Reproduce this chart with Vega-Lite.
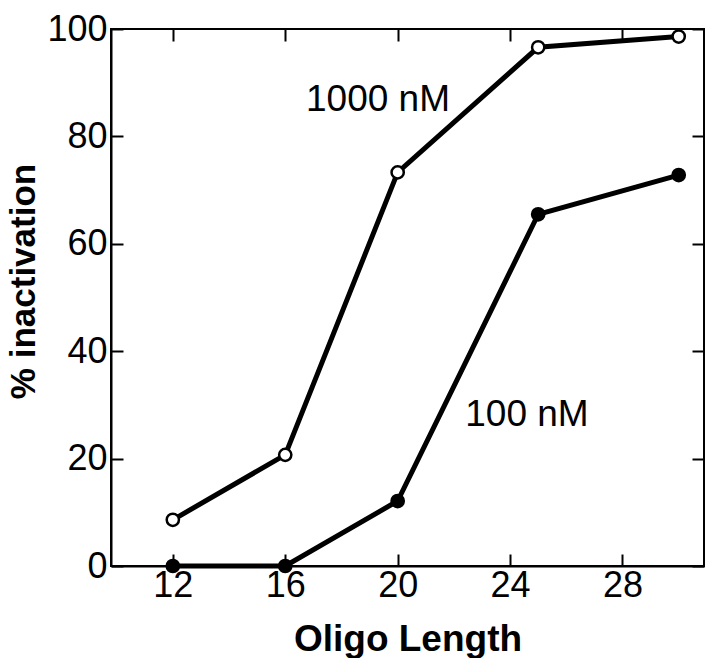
{
  "$schema": "https://vega.github.io/schema/vega-lite/v6.json",
  "width": 593,
  "height": 537,
  "autosize": "none",
  "padding": {"left": 111, "top": 29, "right": 3, "bottom": 92},
  "background": "white",
  "config": {
    "font": "Liberation Sans",
    "view": {"stroke": "black", "strokeWidth": 2},
    "axis": {
      "grid": false,
      "domainColor": "black",
      "domainWidth": 2,
      "tickColor": "black",
      "tickWidth": 2,
      "tickSize": -12,
      "labelColor": "black",
      "labelFont": "Liberation Sans",
      "labelFontSize": 36,
      "titleColor": "black",
      "titleFont": "Liberation Sans",
      "titleFontSize": 37,
      "titleFontWeight": "bold"
    }
  },
  "datasets": {
    "curves": [
      {"length": 12, "pct": 8.6, "conc": "1000 nM"},
      {"length": 16, "pct": 20.7, "conc": "1000 nM"},
      {"length": 20, "pct": 73.3, "conc": "1000 nM"},
      {"length": 25, "pct": 96.6, "conc": "1000 nM"},
      {"length": 30, "pct": 98.6, "conc": "1000 nM"},
      {"length": 12, "pct": 0, "conc": "100 nM"},
      {"length": 16, "pct": 0, "conc": "100 nM"},
      {"length": 20, "pct": 12.1, "conc": "100 nM"},
      {"length": 25, "pct": 65.5, "conc": "100 nM"},
      {"length": 30, "pct": 72.8, "conc": "100 nM"}
    ],
    "labels": [
      {"length": 19.3, "pct": 86.8, "label": "1000 nM"},
      {"length": 24.6, "pct": 28.1, "label": "100 nM"}
    ]
  },
  "layer": [
    {
      "data": {"name": "curves"},
      "mark": {"type": "line", "color": "black", "strokeWidth": 5},
      "encoding": {
        "x": {
          "field": "length", "type": "quantitative",
          "scale": {"domain": [9.8, 30.9], "nice": false, "zero": false},
          "axis": {"orient": "bottom", "values": [12, 16, 20, 24, 28], "title": "Oligo Length", "labelPadding": 14, "titlePadding": 18}
        },
        "y": {
          "field": "pct", "type": "quantitative",
          "scale": {"domain": [0, 100], "nice": false},
          "axis": {"orient": "left", "values": [0, 20, 40, 60, 80, 100], "title": "% inactivation", "titleFontSize": 35, "labelPadding": 16, "titlePadding": 5, "titleY": 252}
        },
        "detail": {"field": "conc"}
      }
    },
    {
      "data": {"name": "curves"},
      "mark": {"type": "point", "shape": "circle", "size": 150, "strokeWidth": 2.5, "stroke": "black", "opacity": 1, "filled": true},
      "encoding": {
        "x": {"field": "length", "type": "quantitative", "axis": null},
        "y": {"field": "pct", "type": "quantitative", "axis": null},
        "fill": {
          "field": "conc", "type": "nominal",
          "scale": {"domain": ["1000 nM", "100 nM"], "range": ["white", "black"]},
          "legend": null
        }
      }
    },
    {
      "data": {"name": "labels"},
      "mark": {"type": "text", "font": "Liberation Sans", "fontSize": 37, "color": "black", "align": "center", "baseline": "middle"},
      "encoding": {
        "x": {"field": "length", "type": "quantitative", "axis": null},
        "y": {"field": "pct", "type": "quantitative", "axis": null},
        "text": {"field": "label"}
      }
    },
    {
      "data": {"name": "curves"},
      "mark": {"type": "point", "opacity": 0},
      "encoding": {
        "x": {
          "field": "length", "type": "quantitative",
          "axis": {"orient": "top", "values": [12, 16, 20, 24, 28], "labels": false, "domain": false, "title": null}
        },
        "y": {
          "field": "pct", "type": "quantitative",
          "axis": {"orient": "right", "values": [0, 20, 40, 60, 80, 100], "labels": false, "domain": false, "title": null}
        }
      }
    }
  ],
  "resolve": {"axis": {"x": "independent", "y": "independent"}}
}
